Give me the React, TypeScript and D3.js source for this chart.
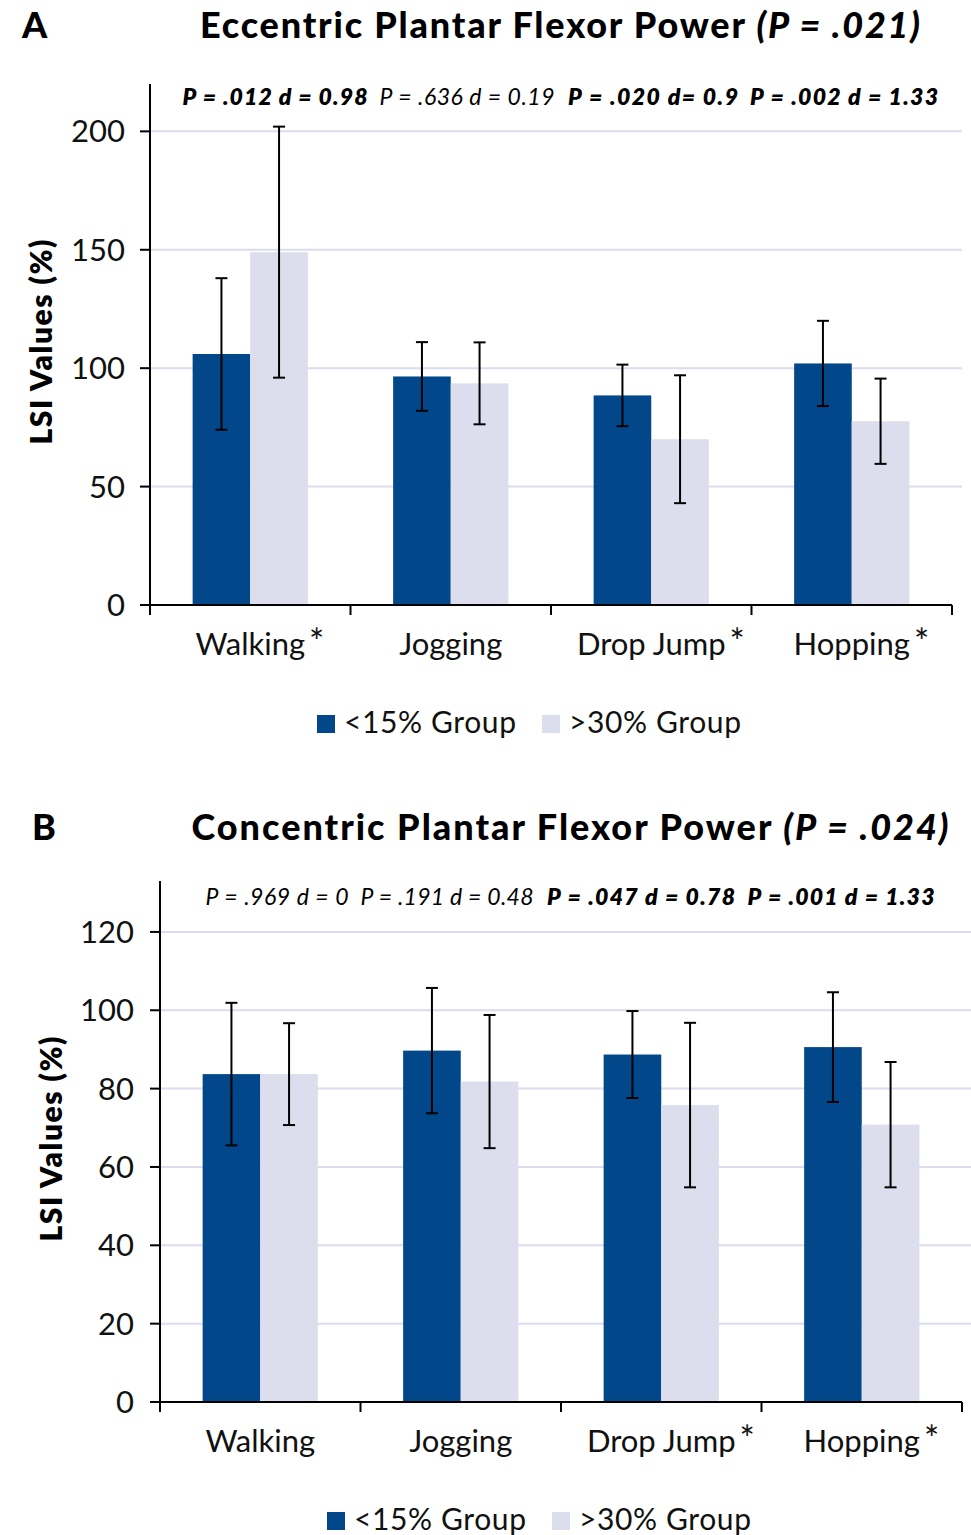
import React, { useEffect, useRef } from "react";
import * as d3 from "d3";

const categories = ["Walking", "Jogging", "Drop Jump", "Hopping"];
const groups = ["<15% Group", ">30% Group"];

// panel A: eccentric
const eccStarred = [true, false, true, true];
const eccLow = [106, 96.5, 88.5, 102];
const eccLowSD = [32, 14.5, 13, 18];
const eccHigh = [149, 93.6, 70, 77.6];
const eccHighSD = [53, 17.3, 27, 18];
const eccTicks = [0, 50, 100, 150, 200];
const eccNotes = ["P = .012 d = 0.98", "P = .636 d = 0.19", "P = .020 d= 0.9", "P = .002 d = 1.33"];
const eccNoteBold = [true, false, true, true];

// panel B: concentric
const conStarred = [false, false, true, true];
const conLow = [83.7, 89.7, 88.7, 90.6];
const conLowSD = [18.2, 16, 11.1, 14];
const conHigh = [83.7, 81.8, 75.8, 70.8];
const conHighSD = [13, 17, 21, 16];
const conTicks = [0, 20, 40, 60, 80, 100, 120];
const conNotes = ["P = .969 d = 0", "P = .191 d = 0.48", "P = .047 d = 0.78", "P = .001 d = 1.33"];
const conNoteBold = [false, false, true, true];

const DARK = "#02478a";
const LIGHT = "#dcdeee";
const GRID = "#dcdcec";
const FONT = "Lato, 'Noto Sans', sans-serif";

function drawPanel(svg, cfg) {
  const g = svg.append("g").attr("font-family", FONT);

  const x = d3.scaleBand().domain(categories).range([cfg.left, cfg.right]);
  const xg = d3.scaleBand().domain(groups).range([0, x.bandwidth()]).paddingOuter(0.74);
  const y = d3.scaleLinear().domain([0, cfg.yMax]).range([cfg.bottom, cfg.top]);

  // gridlines
  g.selectAll(".grid")
    .data(cfg.ticks.filter((t) => t > 0))
    .enter()
    .append("line")
    .attr("x1", cfg.left)
    .attr("x2", cfg.right + 10)
    .attr("y1", (d) => y(d))
    .attr("y2", (d) => y(d))
    .attr("stroke", GRID)
    .attr("stroke-width", 2);

  const rows = categories.map((c, i) => ({
    cat: c,
    vals: [
      { grp: groups[0], v: cfg.low[i], sd: cfg.lowSD[i], fill: DARK },
      { grp: groups[1], v: cfg.high[i], sd: cfg.highSD[i], fill: LIGHT },
    ],
  }));

  const cat = g
    .selectAll(".cat")
    .data(rows)
    .enter()
    .append("g")
    .attr("transform", (d) => `translate(${x(d.cat)},0)`);

  cat.selectAll("rect")
    .data((d) => d.vals)
    .enter()
    .append("rect")
    .attr("x", (d) => xg(d.grp))
    .attr("y", (d) => y(d.v))
    .attr("width", xg.bandwidth())
    .attr("height", (d) => y(0) - y(d.v))
    .attr("fill", (d) => d.fill);

  const err = cat
    .selectAll(".err")
    .data((d) => d.vals)
    .enter()
    .append("g")
    .attr("stroke", "#000")
    .attr("stroke-width", 2);
  const cx = (d) => xg(d.grp) + xg.bandwidth() / 2;
  err.append("line")
    .attr("x1", cx).attr("x2", cx)
    .attr("y1", (d) => y(d.v + d.sd))
    .attr("y2", (d) => y(d.v - d.sd));
  err.append("line")
    .attr("x1", (d) => cx(d) - 6).attr("x2", (d) => cx(d) + 6)
    .attr("y1", (d) => y(d.v + d.sd)).attr("y2", (d) => y(d.v + d.sd));
  err.append("line")
    .attr("x1", (d) => cx(d) - 6).attr("x2", (d) => cx(d) + 6)
    .attr("y1", (d) => y(d.v - d.sd)).attr("y2", (d) => y(d.v - d.sd));

  // y axis
  g.append("line")
    .attr("x1", cfg.left).attr("x2", cfg.left)
    .attr("y1", cfg.top).attr("y2", cfg.bottom)
    .attr("stroke", "#000").attr("stroke-width", 2);
  g.selectAll(".ytick")
    .data(cfg.ticks)
    .enter()
    .append("line")
    .attr("x1", cfg.left - 10).attr("x2", cfg.left)
    .attr("y1", (d) => y(d)).attr("y2", (d) => y(d))
    .attr("stroke", "#000").attr("stroke-width", 2);
  g.selectAll(".ylab")
    .data(cfg.ticks)
    .enter()
    .append("text")
    .attr("x", cfg.tickLabelX)
    .attr("y", (d) => y(d) + 11)
    .attr("text-anchor", "end")
    .attr("font-size", 31)
    .attr("fill", "#111")
    .text((d) => d);

  // x axis
  g.append("line")
    .attr("x1", cfg.left - 10).attr("x2", cfg.right)
    .attr("y1", cfg.bottom).attr("y2", cfg.bottom)
    .attr("stroke", "#000").attr("stroke-width", 2);
  const bounds = categories.map((c) => x(c)).concat([cfg.right]);
  g.selectAll(".xtick")
    .data(bounds)
    .enter()
    .append("line")
    .attr("x1", (d) => d).attr("x2", (d) => d)
    .attr("y1", cfg.bottom).attr("y2", cfg.bottom + 10)
    .attr("stroke", "#000").attr("stroke-width", 2);

  categories.forEach((c, i) => {
    const cxc = x(c) + x.bandwidth() / 2;
    const t = g.append("text")
      .attr("x", cxc)
      .attr("y", cfg.bottom + 50)
      .attr("text-anchor", "middle")
      .attr("font-size", 31)
      .attr("fill", "#111")
      .text(c);
    if (cfg.starred[i]) {
      const w = t.node().getComputedTextLength();
      g.append("text")
        .attr("x", cxc + w / 2 + 4)
        .attr("y", cfg.bottom + 50)
        .attr("font-size", 36)
        .attr("fill", "#111")
        .text("*");
    }
  });

  // annotations
  cfg.notes.forEach((n, i) => {
    g.append("text")
      .attr("x", cfg.noteX[i])
      .attr("y", cfg.noteY)
      .attr("text-anchor", "middle")
      .attr("font-size", 23)
      .attr("font-style", "italic")
      .attr("font-weight", cfg.noteBold[i] ? 800 : 400)
      .attr("textLength", cfg.noteW[i])
      .attr("fill", "#000")
      .text(n);
  });

  // y label
  g.append("text")
    .attr("transform", `translate(${cfg.yLabelX},${cfg.yLabelY}) rotate(-90)`)
    .attr("text-anchor", "middle")
    .attr("font-size", 30)
    .attr("font-weight", 800)
    .attr("textLength", 205)
    .attr("fill", "#000")
    .text("LSI Values (%)");

  // title + panel letter
  g.append("text")
    .attr("x", cfg.letterX)
    .attr("y", cfg.titleY)
    .attr("font-size", 36)
    .attr("font-weight", 900)
    .text(cfg.letter);
  const tt = g.append("text")
    .attr("x", cfg.titleX)
    .attr("y", cfg.titleY)
    .attr("text-anchor", "middle")
    .attr("font-size", 36)
    .attr("font-weight", 900)
    .attr("textLength", cfg.titleW)
    .attr("fill", "#000");
  tt.append("tspan").text(cfg.title + " ");
  tt.append("tspan").attr("font-style", "italic").text(cfg.titleP);

  // legend
  const lg = g.append("g").attr("transform", `translate(${cfg.legendX},${cfg.legendY})`);
  const offs = [0, 225];
  groups.forEach((grp, i) => {
    lg.append("rect")
      .attr("x", offs[i]).attr("y", -18)
      .attr("width", 18).attr("height", 18)
      .attr("fill", i === 0 ? DARK : LIGHT);
    lg.append("text")
      .attr("x", offs[i] + 27).attr("y", 0)
      .attr("font-size", 30)
      .attr("textLength", 172)
      .attr("fill", "#111")
      .text(grp);
  });
}

export default function App() {
  const ref = useRef(null);

  useEffect(() => {
    document.body.style.margin = "0";
    const svg = d3.select(ref.current);
    svg.selectAll("*").remove();

    drawPanel(svg, {
      left: 150, right: 952, top: 84, bottom: 605, yMax: 220,
      ticks: eccTicks, tickLabelX: 125,
      low: eccLow, lowSD: eccLowSD, high: eccHigh, highSD: eccHighSD,
      starred: eccStarred,
      notes: eccNotes, noteBold: eccNoteBold, noteX: [275, 467, 653, 844], noteW: [185, 175, 170, 188], noteY: 105,
      yLabelX: 52, yLabelY: 342,
      letter: "A", letterX: 22, titleX: 560, titleY: 38, titleW: 720,
      title: "Eccentric Plantar Flexor Power", titleP: "(P = .021)",
      legendX: 317, legendY: 733,
    });

    drawPanel(svg, {
      left: 160, right: 962, top: 881, bottom: 1402, yMax: 133,
      ticks: conTicks, tickLabelX: 134,
      low: conLow, lowSD: conLowSD, high: conHigh, highSD: conHighSD,
      starred: conStarred,
      notes: conNotes, noteBold: conNoteBold, noteX: [277, 447, 641, 841], noteW: [143, 173, 188, 187], noteY: 905,
      yLabelX: 62, yLabelY: 1139,
      letter: "B", letterX: 32, titleX: 570, titleY: 840, titleW: 757,
      title: "Concentric Plantar Flexor Power", titleP: "(P = .024)",
      legendX: 327, legendY: 1530,
    });
  }, []);

  return <svg ref={ref} width={971} height={1535} style={{ display: "block" }} />;
}
